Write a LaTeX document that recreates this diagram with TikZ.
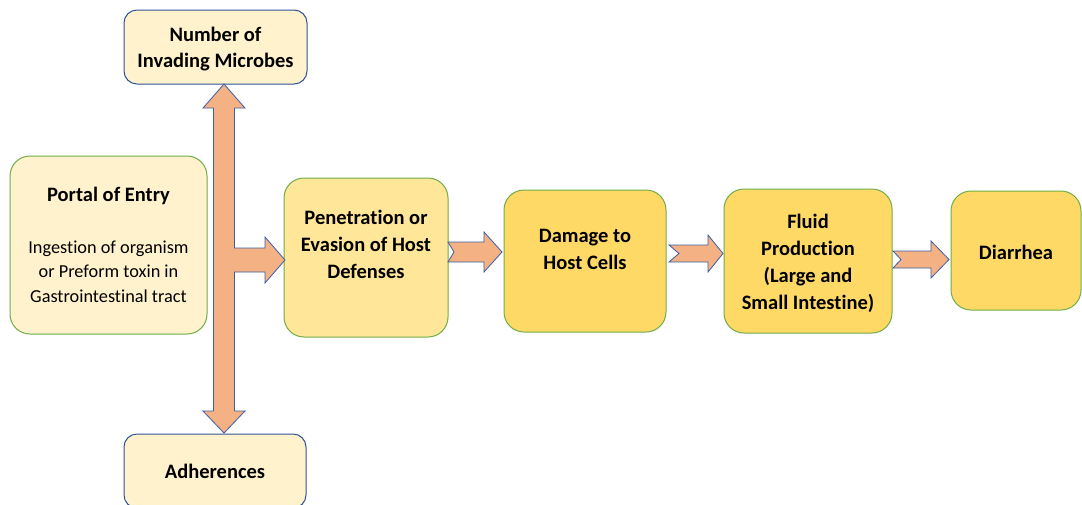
\documentclass[tikz,border=0pt]{standalone}
\usepackage{fontspec}
\setmainfont{Carlito}[Ligatures=NoCommon]
\usetikzlibrary{calc}
\definecolor{cream}{HTML}{FFF2CC}
\definecolor{yelA}{HTML}{FFE699}
\definecolor{yelB}{HTML}{FFD966}
\definecolor{grn}{HTML}{70AD47}
\definecolor{blu}{HTML}{2F5597}
\definecolor{arrfill}{HTML}{F4B183}
\definecolor{arrline}{HTML}{3A5FA5}
\newcommand\notcharrow[6]{%
  \draw[barrow] let \p1=(#1), \p2=(#2) in
    (\x1,\y1+#3) -- (\x2-#5,\y1+#3) -- (\x2-#5,\y1+#4) -- (\x2,\y2)
    -- (\x2-#5,\y1-#4) -- (\x2-#5,\y1-#3) -- (\x1,\y1-#3) -- (\x1+#6,\y1) -- cycle;}
\begin{document}
\begin{tikzpicture}[x=1pt,y=-1pt,
  boxbase/.style={rectangle, rounded corners=20pt, line width=1pt, align=center, inner sep=0pt},
  cbox/.style={boxbase, draw=blu, fill=cream, rounded corners=13pt},
  gbox/.style={boxbase, draw=grn},
  btxt/.style={font=\fontsize{20.5}{26.8}\selectfont\bfseries, align=center},
  barrow/.style={draw=arrline, fill=arrfill, line width=0.8pt, line join=miter}]
\useasboundingbox (0,0) rectangle (1082,504);
\fill[white] (0,0) rectangle (1082,504);

\node[cbox, minimum width=183pt, minimum height=74pt] (num) at (215.5,47) {};
\node[btxt] (numtext) at (215.5,49) {Number of\\Invading Microbes};
\node[gbox, fill=cream, minimum width=197pt, minimum height=178pt, font=\fontsize{18.3}{24.6}\selectfont] (portal) at (108.5,245)
  {{\fontsize{20.5}{24.6}\selectfont\bfseries Portal of Entry}\\[27pt]Ingestion of organism\\or Preform toxin in\\Gastrointestinal tract};
\node[gbox, fill=yelA, minimum width=164pt, minimum height=159pt] (pen) at (366,257.5) {};
\node[btxt] (pentext) at (366,244.5) {Penetration or\\Evasion of Host\\Defenses};
\node[gbox, fill=yelB, minimum width=162pt, minimum height=142pt] (dmg) at (585,261) {};
\node[btxt] (dmgtext) at (585,249.5) {Damage to\\Host Cells};
\node[gbox, fill=yelB, minimum width=168pt, minimum height=144pt] (fluid) at (808,261) {};
\node[btxt] (fluidtext) at (808,263.5) {Fluid\\Production\\(Large and\\Small Intestine)};
\node[gbox, fill=yelB, minimum width=130pt, minimum height=119pt] (diar) at (1016,250.5) {};
\node[btxt] (diartext) at (1016,252) {Diarrhea};
\node[cbox, btxt, minimum width=182pt, minimum height=74pt] (adh) at (215,471) {Adherences};

% branching block arrow
\coordinate (up) at (224,84);
\coordinate (dn) at (224,433);
\coordinate (rt) at (285,260);
\draw[barrow] let \p1=(up), \p2=(dn), \p3=(rt) in
  (\x1,\y1) -- (\x1+21pt,\y1-24pt) -- (\x1+10.5pt,\y1-24pt) -- (\x1+10.5pt,\y3+12pt)
  -- (\x3-20pt,\y3+12pt) -- (\x3-20pt,\y3+23pt) -- (\x3,\y3) -- (\x3-20pt,\y3-23pt)
  -- (\x3-20pt,\y3-12pt) -- (\x1+10.5pt,\y3-12pt) -- (\x2+10.5pt,\y2+22pt)
  -- (\x2+21pt,\y2+22pt) -- (\x2,\y2) -- (\x2-21pt,\y2+22pt) -- (\x2-10.5pt,\y2+22pt)
  -- (\x1-10.5pt,\y1-24pt) -- (\x1-21pt,\y1-24pt) -- cycle;

% notched arrows
\coordinate (a1s) at (448,252);   \coordinate (a1e) at (502,252);
\coordinate (a2s) at (669,253.5); \coordinate (a2e) at (723,253.5);
\coordinate (a3s) at (893,259.5); \coordinate (a3e) at (949,259.5);
\notcharrow{a1s}{a1e}{10pt}{20pt}{18pt}{6pt}
\notcharrow{a2s}{a2e}{8.5pt}{18.5pt}{15pt}{10pt}
\notcharrow{a3s}{a3e}{8.5pt}{18.5pt}{18pt}{8pt}
\end{tikzpicture}
\end{document}
